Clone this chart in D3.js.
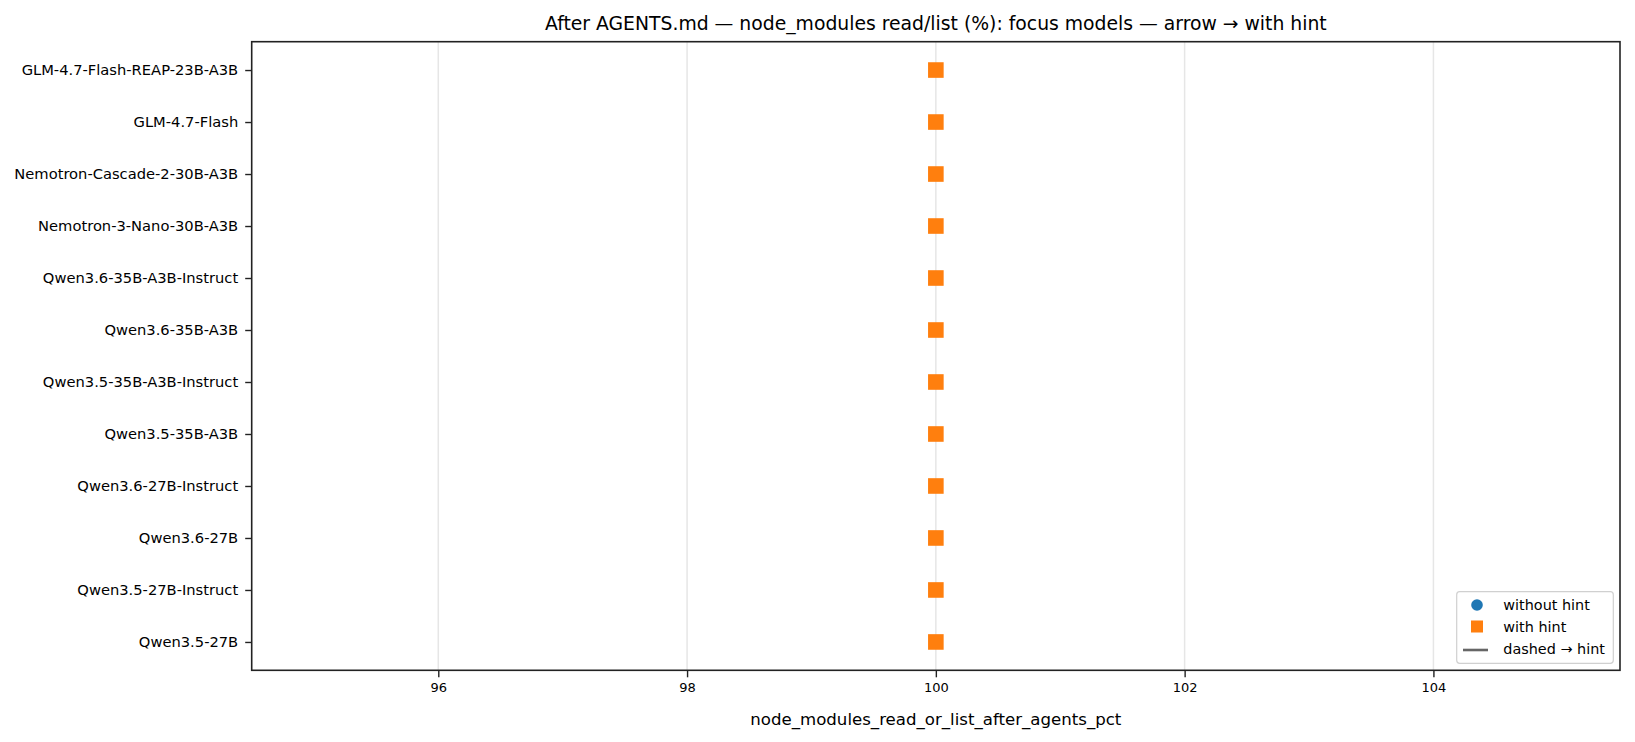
<!DOCTYPE html>
<html><head><meta charset="utf-8">
<script src="https://cdn.jsdelivr.net/npm/d3@7"></script>
<style>body{margin:0;background:#fff;} svg{display:block;} text{font-family:"DejaVu Sans",sans-serif;fill:#000;}</style>
</head><body>
<svg id="c" width="1635" height="742"></svg>
<script>
const models = ["GLM-4.7-Flash-REAP-23B-A3B","GLM-4.7-Flash","Nemotron-Cascade-2-30B-A3B","Nemotron-3-Nano-30B-A3B","Qwen3.6-35B-A3B-Instruct","Qwen3.6-35B-A3B","Qwen3.5-35B-A3B-Instruct","Qwen3.5-35B-A3B","Qwen3.6-27B-Instruct","Qwen3.6-27B","Qwen3.5-27B-Instruct","Qwen3.5-27B"];
const withoutHint = [100,100,100,100,100,100,100,100,100,100,100,100];
const withHint = [100,100,100,100,100,100,100,100,100,100,100,100];
const xTicks = [96,98,100,102,104];
const xDomain = [94.5,105.5];
const legendLabels = ["without hint","with hint","dashed \u2192 hint"];

const svg = d3.select("#c");
const L=251.7, R=1620, T=41.7, B=670.3;
const x = d3.scaleLinear().domain(xDomain).range([L,R]);
const y = d3.scaleLinear().domain([-0.545, models.length-1+0.545]).range([T,B]);

// grid
svg.append("g").selectAll("line").data(xTicks).join("line")
  .attr("x1",d=>x(d)).attr("x2",d=>x(d)).attr("y1",T).attr("y2",B)
  .attr("stroke","#e6e6e6").attr("stroke-width",1.5);

// x axis
const xa = svg.append("g").attr("transform",`translate(0,${B})`)
  .call(d3.axisBottom(x).tickValues(xTicks).tickFormat(d3.format("d")).tickSizeOuter(0).tickSize(7).tickPadding(5));
xa.select(".domain").remove();
xa.selectAll("line").attr("stroke","#222").attr("stroke-width",1.4);
xa.selectAll("text").style("font-size","13px").style("font-family","DejaVu Sans").attr("fill","#000");

// y axis
const ya = svg.append("g").attr("transform",`translate(${L},0)`)
  .call(d3.axisLeft(y).tickValues(d3.range(models.length)).tickFormat(i=>models[i]).tickSizeOuter(0).tickSize(6.5).tickPadding(7));
ya.select(".domain").remove();
ya.selectAll("line").attr("stroke","#222").attr("stroke-width",1.4);
ya.selectAll("text").style("font-size","14.7px").style("font-family","DejaVu Sans").attr("fill","#000");

// dashed connectors
svg.append("g").selectAll("line").data(models).join("line")
  .attr("x1",(d,i)=>x(withoutHint[i])).attr("x2",(d,i)=>x(withHint[i]))
  .attr("y1",(d,i)=>y(i)).attr("y2",(d,i)=>y(i))
  .attr("stroke","#666").attr("stroke-width",2).attr("stroke-dasharray","6,4");

// circles
svg.append("g").selectAll("circle").data(withoutHint).join("circle")
  .attr("cx",d=>x(d)).attr("cy",(d,i)=>y(i)).attr("r",7).attr("fill","#1f77b4");
// squares
const s=15.6;
svg.append("g").selectAll("rect").data(withHint).join("rect")
  .attr("x",d=>x(d)-s/2).attr("y",(d,i)=>y(i)-s/2).attr("width",s).attr("height",s).attr("fill","#ff7f0e");

// frame
svg.append("rect").attr("x",L).attr("y",T).attr("width",R-L).attr("height",B-T)
  .attr("fill","none").attr("stroke","#222").attr("stroke-width",1.6);

// title
svg.append("text").attr("x",(L+R)/2).attr("y",30).attr("text-anchor","middle")
  .style("font-size","18.8px").text("After AGENTS.md \u2014 node_modules read/list (%): focus models \u2014 arrow \u2192 with hint");
// xlabel
svg.append("text").attr("x",(L+R)/2).attr("y",725).attr("text-anchor","middle")
  .style("font-size","16.6px").text("node_modules_read_or_list_after_agents_pct");

// legend
const lg = svg.append("g");
lg.append("rect").attr("x",1456.7).attr("y",591.7).attr("width",156.6).attr("height",71.6)
  .attr("rx",3).attr("fill","#fff").attr("fill-opacity",0.8).attr("stroke","#d0d0d0").attr("stroke-width",1.2);
const ly = [605, 626.5, 648.5];
lg.append("circle").attr("cx",1477).attr("cy",ly[0]).attr("r",5.8).attr("fill","#1f77b4");
lg.append("rect").attr("x",1477-6).attr("y",ly[1]-6).attr("width",12).attr("height",12).attr("fill","#ff7f0e");
lg.append("line").attr("x1",1463).attr("x2",1488).attr("y1",ly[2]+1.5).attr("y2",ly[2]+1.5).attr("stroke","#666").attr("stroke-width",2.6);
lg.selectAll("text").data(legendLabels).join("text")
  .attr("x",1503.3).attr("y",(d,i)=>ly[i]).attr("dy","0.36em")
  .style("font-size","14.4px").text(d=>d);
</script>
</body></html>
